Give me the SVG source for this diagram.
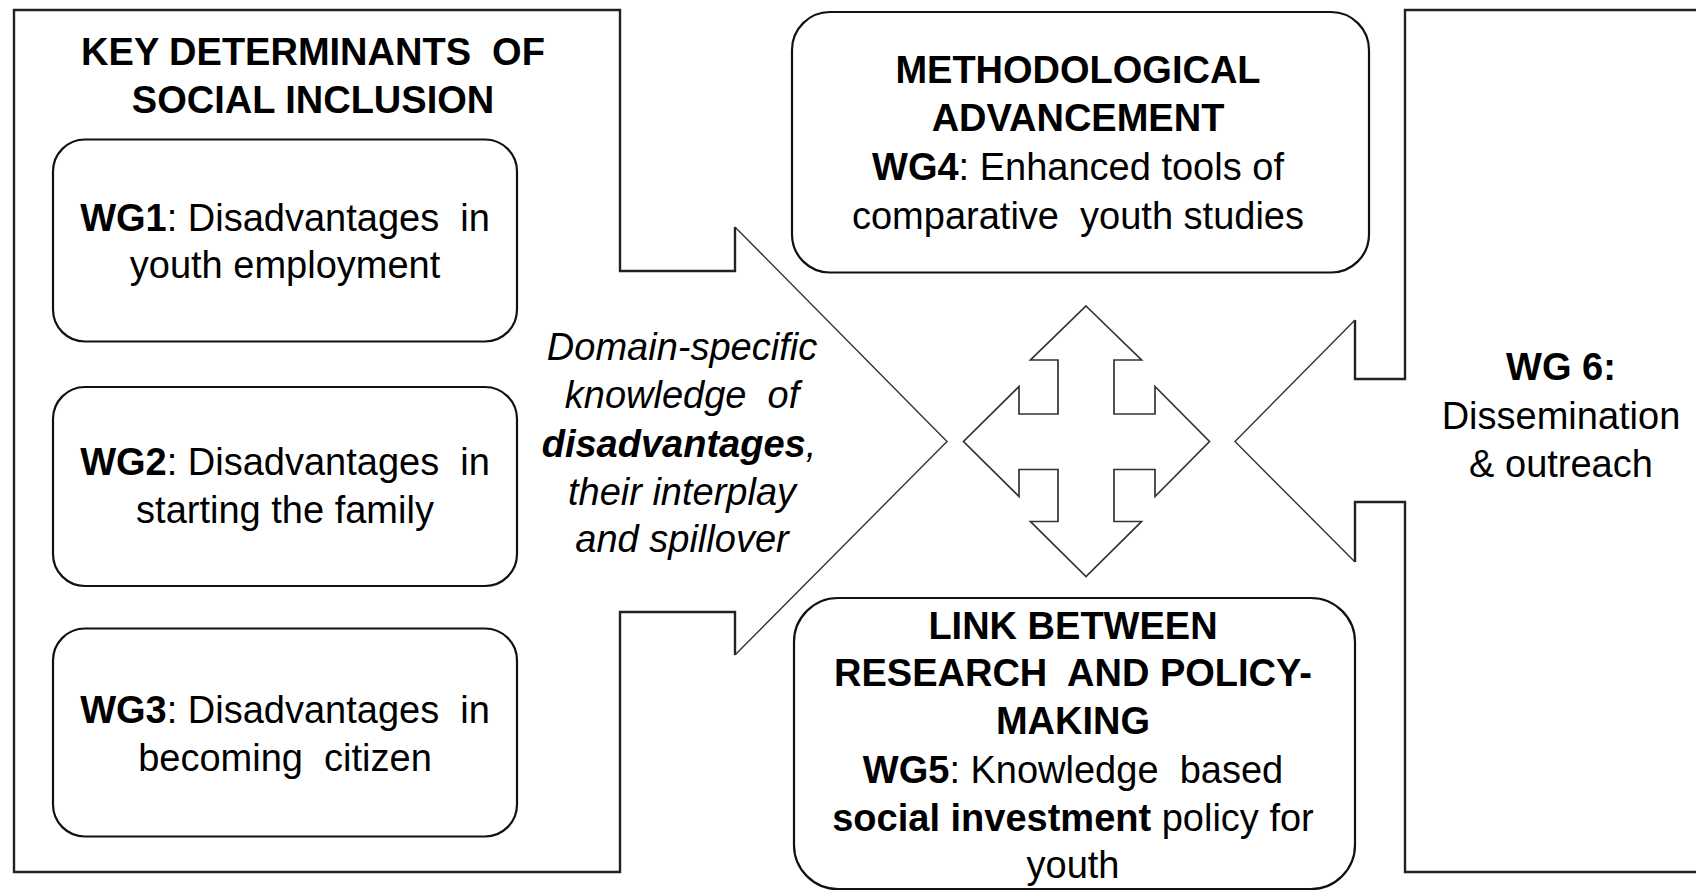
<svg xmlns="http://www.w3.org/2000/svg" width="1696" height="891" viewBox="0 0 1696 891">
<style>
  text { font-family: "Liberation Sans", Arial, sans-serif; font-size: 38px; fill: #000; text-anchor: middle; white-space: pre; }
  .b { font-weight: bold; }
  .n { font-weight: normal; }
  .i { font-style: italic; }
  .box { fill: #fff; stroke: #111; stroke-width: 2.2; }
  .edge { fill: none; stroke: #222; stroke-width: 2.4; stroke-linejoin: miter; }
  .diag { fill: none; stroke: #333; stroke-width: 1.4; }
  .cross { fill: #fff; stroke: #333; stroke-width: 1.7; stroke-linejoin: miter; }
</style>
<rect x="0" y="0" width="1696" height="891" fill="#fff"/>

<g id="left-panel">
  <polygon points="14,10 620,10 620,271 735,271 735,227 947,441.5 735,655 735,612 620,612 620,872 14,872" fill="#fff" stroke="none"/>
  <path class="edge" d="M735,227 L735,271 L620,271 L620,10 L14,10 L14,872 L620,872 L620,612 L735,612 L735,655"/>
  <path class="diag" d="M735,227 L947,441.5 L735,655"/>
  <text class="b" x="313" y="65" xml:space="preserve">KEY DETERMINANTS  OF</text>
  <text class="b" x="313" y="113">SOCIAL INCLUSION</text>
</g>

<g id="right-panel">
  <polygon points="1405,10 1700,10 1700,872 1405,872 1405,502 1355,502 1355,562 1235,441.5 1355,320 1355,379 1405,379" fill="#fff" stroke="none"/>
  <path class="edge" d="M1355,320 L1355,379 L1405,379 L1405,10 L1700,10 M1700,872 L1405,872 L1405,502 L1355,502 L1355,562"/>
  <path class="diag" d="M1355,320 L1235,441.5 L1355,562"/>
  <g id="wg6">
    <text class="b" x="1561" y="380">WG 6:</text>
    <text x="1561" y="429">Dissemination</text>
    <text x="1561" y="477">&amp; outreach</text>
  </g>
</g>

<g id="wg1">
  <rect class="box" x="53" y="139.5" width="464" height="202" rx="32" ry="32"/>
  <text x="285" y="231" xml:space="preserve"><tspan class="b">WG1</tspan>: Disadvantages  in</text>
  <text x="285" y="278">youth employment</text>
</g>

<g id="wg2">
  <rect class="box" x="53" y="387" width="464" height="199" rx="32" ry="32"/>
  <text x="285" y="475" xml:space="preserve"><tspan class="b">WG2</tspan>: Disadvantages  in</text>
  <text x="285" y="522.5">starting the family</text>
</g>

<g id="wg3">
  <rect class="box" x="53" y="628.5" width="464" height="208" rx="32" ry="32"/>
  <text x="285" y="722.5" xml:space="preserve"><tspan class="b">WG3</tspan>: Disadvantages  in</text>
  <text x="285" y="771" xml:space="preserve">becoming  citizen</text>
</g>

<g id="knowledge-label">
  <text class="i" x="682" y="360">Domain-specific</text>
  <text class="i" x="682" y="408" xml:space="preserve">knowledge  of</text>
  <text class="i" x="679" y="456.5"><tspan class="b">disadvantages</tspan>,</text>
  <text class="i" x="682" y="505">their interplay</text>
  <text class="i" x="682" y="551.5">and spillover</text>
</g>

<g id="wg4">
  <rect class="box" x="792" y="12" width="577" height="260.5" rx="38" ry="38"/>
  <text class="b" x="1078" y="82.5">METHODOLOGICAL</text>
  <text class="b" x="1078" y="131">ADVANCEMENT</text>
  <text x="1078" y="180"><tspan class="b">WG4</tspan>: Enhanced tools of</text>
  <text x="1078" y="228.5" xml:space="preserve">comparative  youth studies</text>
</g>

<g id="wg5">
  <rect class="box" x="794" y="598" width="561" height="291" rx="44" ry="44"/>
  <text class="b" x="1073" y="638.5">LINK BETWEEN</text>
  <text class="b" x="1073" y="686" xml:space="preserve">RESEARCH  AND POLICY-</text>
  <text class="b" x="1073" y="734">MAKING</text>
  <text x="1073" y="782.5" xml:space="preserve"><tspan class="b">WG5</tspan>: Knowledge  based</text>
  <text x="1073" y="830.5"><tspan class="b">social investment</tspan> policy for</text>
  <text x="1073" y="877.5">youth</text>
</g>

<g id="connectors">
  <polygon class="cross" points="1086,306 1141.5,360 1114,360 1114,414 1155,414 1155,386.5 1209.5,441.5 1155,496.5 1155,469.5 1114,469.5 1114,521.5 1141.5,521.5 1086,576.5 1030.5,521.5 1058,521.5 1058,469.5 1019,469.5 1019,496.5 963.5,441.5 1019,386.5 1019,414 1058,414 1058,360 1030.5,360"/>
</g>
</svg>
